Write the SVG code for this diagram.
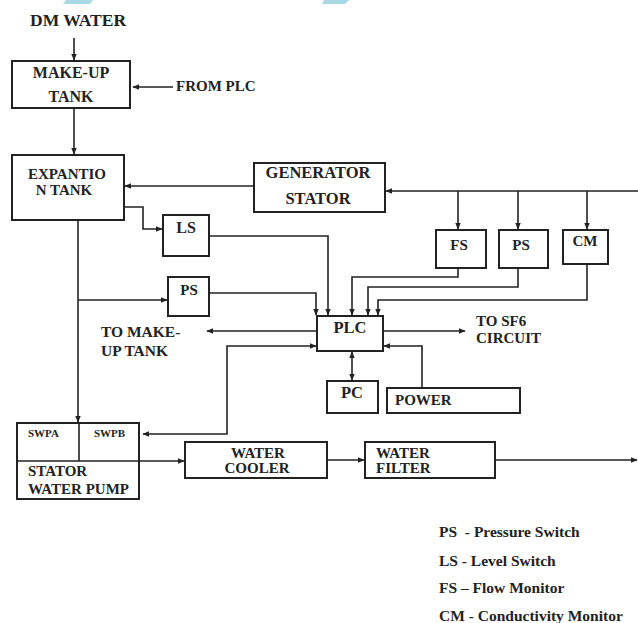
<svg xmlns="http://www.w3.org/2000/svg" width="638" height="623" viewBox="0 0 638 623">
<style>
.b{fill:#fff;stroke:#222;stroke-width:2}
.c{fill:none;stroke:#222;stroke-width:1.6}
.t{font-family:"Liberation Serif","Times New Roman",serif;font-weight:bold;font-size:15px;fill:#222}
.s{font-family:"Liberation Serif","Times New Roman",serif;font-weight:bold;font-size:11px;fill:#222}
.m{text-anchor:middle}
.l{font-size:15.5px;white-space:pre}
.f16{font-size:16px}
.f165{font-size:16.5px}
.f155{font-size:15.5px}
</style>
<defs>
<marker id="a" viewBox="0 0 10 10" refX="9" refY="5" markerWidth="7" markerHeight="7" orient="auto-start-reverse" markerUnits="userSpaceOnUse">
<path d="M0,1 L10,5 L0,9 Z" fill="#222"/>
</marker>
</defs>
<polygon points="66,0 93,0 90,4 63,4" fill="#a8d8e6"/>
<polygon points="324,0 349,0 345,4 322,4" fill="#a8d8e6"/>

<g id="connectors">
<path class="c" d="M74,38 V60" marker-end="url(#a)"/>
<path class="c" d="M173,87 H133" marker-end="url(#a)"/>
<path class="c" d="M74,108 V154" marker-end="url(#a)"/>
<path class="c" d="M254,186 H125" marker-end="url(#a)"/>
<path class="c" d="M638,191 H386" marker-end="url(#a)"/>
<path class="c" d="M458,191 V229" marker-end="url(#a)"/>
<path class="c" d="M518,191 V229" marker-end="url(#a)"/>
<path class="c" d="M587,191 V229" marker-end="url(#a)"/>
<path class="c" d="M124,207 H143 V229 H162" marker-end="url(#a)"/>
<path class="c" d="M78,220 V422" marker-end="url(#a)"/>
<path class="c" d="M78,300 H167" marker-end="url(#a)"/>
<path class="c" d="M209,236 H328 V315" marker-end="url(#a)"/>
<path class="c" d="M209,293 H316 V315" marker-end="url(#a)"/>
<path class="c" d="M458,268 V277 H352 V315" marker-end="url(#a)"/>
<path class="c" d="M518,268 V287 H368 V315" marker-end="url(#a)"/>
<path class="c" d="M587,264 V300 H378 V315" marker-end="url(#a)"/>
<path class="c" d="M383,331 H465" marker-end="url(#a)"/>
<path class="c" d="M317,331 H207" marker-end="url(#a)"/>
<path class="c" d="M143,434 H227 V346 H316" marker-start="url(#a)" marker-end="url(#a)"/>
<path class="c" d="M352,352 V380" marker-start="url(#a)" marker-end="url(#a)"/>
<path class="c" d="M422,388 V346 H384" marker-end="url(#a)"/>
<path class="c" d="M139,461 H184" marker-end="url(#a)"/>
<path class="c" d="M327,460 H364" marker-end="url(#a)"/>
<path class="c" d="M495,460 H637" marker-end="url(#a)"/>
</g>

<text class="t" x="30" y="26" style="font-size:17.5px">DM WATER</text>
<text class="t" x="176" y="91">FROM PLC</text>

<g id="makeup-tank">
<rect class="b" x="12" y="61" width="118" height="47"/>
<text class="t m f16" x="71" y="78">MAKE-UP</text>
<text class="t m f16" x="71" y="102">TANK</text>
</g>

<g id="expansion-tank">
<rect class="b" x="12" y="155" width="112" height="65"/>
<text class="t m" x="67" y="179">EXPANTIO</text>
<text class="t m" x="64" y="195">N TANK</text>
</g>

<g id="generator-stator">
<rect class="b" x="254" y="163" width="131" height="49"/>
<text class="t m f165" x="318" y="178">GENERATOR</text>
<text class="t m f165" x="318" y="204">STATOR</text>
</g>

<g id="ls">
<rect class="b" x="163" y="215" width="46" height="41"/>
<text class="t m f16" x="186" y="233">LS</text>
</g>

<g id="ps1">
<rect class="b" x="168" y="277" width="41" height="39"/>
<text class="t m" x="189" y="295">PS</text>
</g>

<g id="fs">
<rect class="b" x="436" y="230" width="50" height="38"/>
<text class="t m" x="459" y="250">FS</text>
</g>

<g id="ps2">
<rect class="b" x="499" y="230" width="49" height="38"/>
<text class="t m" x="521" y="250">PS</text>
</g>

<g id="cm">
<rect class="b" x="563" y="230" width="45" height="34"/>
<text class="t m" x="585" y="246">CM</text>
</g>

<g id="plc">
<rect class="b" x="317" y="316" width="66" height="35"/>
<text class="t m f165" x="350" y="333">PLC</text>
</g>

<text class="t f155" x="101" y="337">TO MAKE-</text>
<text class="t f155" x="101" y="356">UP TANK</text>
<text class="t" x="476" y="326">TO SF6</text>
<text class="t" x="476" y="343">CIRCUIT</text>

<g id="pc">
<rect class="b" x="327" y="381" width="51" height="32"/>
<text class="t m f165" x="352" y="398">PC</text>
</g>

<g id="power">
<rect class="b" x="387" y="388" width="133" height="25"/>
<text class="t" x="395" y="405">POWER</text>
</g>

<g id="stator-water-pump">
<rect class="b" x="17" y="423" width="122" height="76"/>
<path class="c" d="M17,461 H139 M79,423 V461"/>
<text class="s" x="28" y="437">SWPA</text>
<text class="s" x="94" y="437">SWPB</text>
<text class="t" x="28" y="476">STATOR</text>
<text class="t" x="28" y="494">WATER PUMP</text>
</g>

<g id="water-cooler">
<rect class="b" x="185" y="442" width="142" height="36"/>
<text class="t m" x="258" y="458">WATER</text>
<text class="t m" x="257" y="473">COOLER</text>
</g>

<g id="water-filter">
<rect class="b" x="365" y="442" width="130" height="36"/>
<text class="t" x="376" y="458">WATER</text>
<text class="t" x="376" y="473">FILTER</text>
</g>

<g id="legend">
<text class="t l" x="439" y="537">PS  - Pressure Switch</text>
<text class="t l" x="439" y="566">LS - Level Switch</text>
<text class="t l" x="439" y="593">FS – Flow Monitor</text>
<text class="t l" x="439" y="621">CM - Conductivity Monitor</text>
</g>
</svg>
